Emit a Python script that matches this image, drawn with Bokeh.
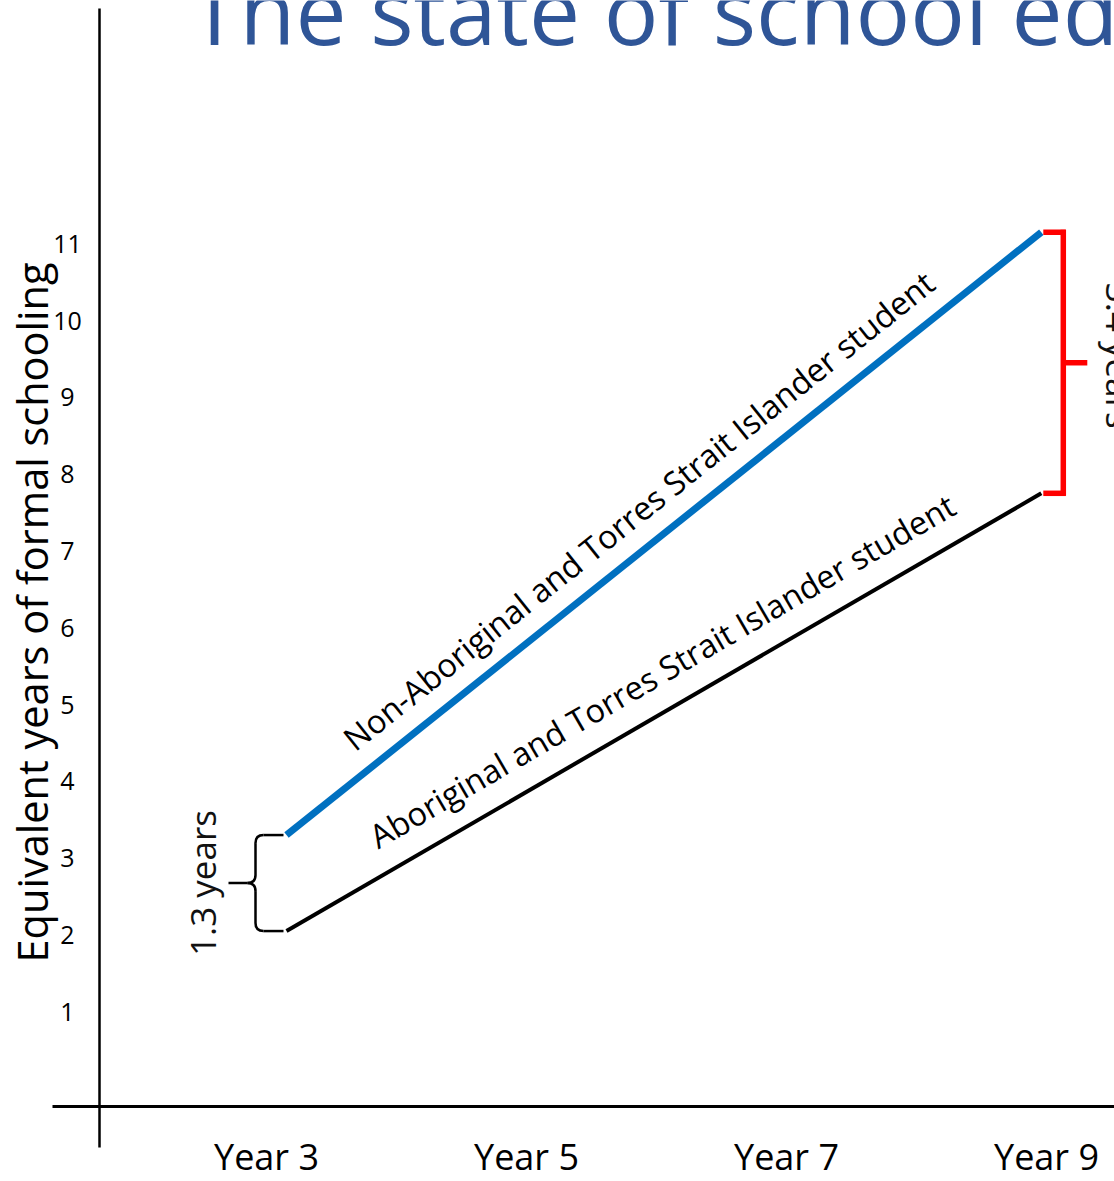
import math
from bokeh.plotting import figure
from bokeh.models import Range1d
from bokeh.core.properties import value
from bokeh.embed import file_html
from bokeh.resources import INLINE

# ---------------- data ----------------
title_text = "The state of school education"
y_axis_title = "Equivalent years of formal schooling"
x_tick_years = [3, 5, 7, 9]
x_tick_labels = ["Year 3", "Year 5", "Year 7", "Year 9"]
y_ticks = [1, 2, 3, 4, 5, 6, 7, 8, 9, 10, 11]
line_years = [3, 9]
non_indigenous = [3.3, 11.15]
indigenous = [2.05, 7.75]
series_names = ["Non-Aboriginal and Torres Strait Islander student",
                "Aboriginal and Torres Strait Islander student"]
gap_labels = ["1.3 years", "3.4 years"]

# ---------------- layout ----------------
FIG_W, FIG_H = 1114, 1181
OFF = 0
X3_PX, X_PER = 286.0, 125.8    # pixel of year 3 on the line scale, px per year
Y0_PX, Y_PER = 1088.0, 76.8    # pixel of value 0, px per unit
LBL3_PX, LBL_PER = 266.0, 130.0  # tick-label scale
K_BASE = 0.4                   # baseline correction (fraction of font size)

x_start = 3 + (OFF - X3_PX) / X_PER
x_end = x_start + FIG_W / X_PER
y_end = (Y0_PX - OFF) / Y_PER
y_start = y_end - FIG_H / Y_PER
l_start = 3 + (OFF - LBL3_PX) / LBL_PER
l_end = l_start + FIG_W / LBL_PER


def xr(px):
    return 3 + (px - X3_PX) / X_PER


def yr(px):
    return (Y0_PX - px) / Y_PER


def dx(px):
    return px / X_PER


def dy(px):
    return px / Y_PER


FONT = value("Open Sans")

p = figure(width=FIG_W, height=FIG_H, x_range=Range1d(x_start, x_end),
           y_range=Range1d(y_start, y_end), output_backend="svg",
           toolbar_location=None, x_axis_type=None, y_axis_type=None,
           min_border=0)
p.extra_x_ranges = {"lbl": Range1d(l_start, l_end)}
p.outline_line_color = None
p.background_fill_color = "white"
p.border_fill_color = "white"


def btext(x, y, text, size, angle=0.0, color="black", align="center",
          x_range_name=None, per_x=X_PER):
    """text placed with its alphabetic baseline through (x, y)."""
    c = K_BASE * size
    xs = [v - c * math.sin(angle) / per_x for v in x]
    ys = [v + c * math.cos(angle) / Y_PER for v in y]
    kw = dict(x=xs, y=ys, text=text, angle=angle, text_font=FONT,
              text_font_size=value(f"{size}px"), text_color=color,
              text_align=align, text_baseline="alphabetic")
    if x_range_name:
        kw["x_range_name"] = x_range_name
    p.text(**kw)


# title
btext([xr(189)], [yr(46)], [title_text], 91, color="#2F5597", align="left")

# axis lines
p.segment(x0=[xr(99)], y0=[yr(8)], x1=[xr(99)], y1=[yr(1147)],
          line_color="black", line_width=2.5)
p.segment(x0=[xr(52)], y0=[yr(1106)], x1=[xr(1120)], y1=[yr(1106)],
          line_color="black", line_width=3)

# y tick labels
p.text(x=[xr(67)] * len(y_ticks), y=y_ticks, text=[str(t) for t in y_ticks],
       text_font=FONT, text_font_size=value("25px"), text_color="black",
       text_align="center", text_baseline="middle")

# y axis title
btext([xr(48)], [yr(612)], [y_axis_title], 41.5, angle=math.pi / 2)

# x tick labels
btext(x_tick_years, [yr(1170)] * len(x_tick_years), x_tick_labels, 36,
      x_range_name="lbl", per_x=LBL_PER)

# series lines
p.line(line_years, non_indigenous, line_color="#0070C0", line_width=7)
p.line(line_years, indigenous, line_color="black", line_width=4)


# labels along lines
def line_label(vals, text, frac, d, size):
    th = math.atan2((vals[1] - vals[0]) * Y_PER,
                    (line_years[1] - line_years[0]) * X_PER)
    x = line_years[0] + frac * (line_years[1] - line_years[0])
    y = vals[0] + frac * (vals[1] - vals[0])
    x += dx(-d * math.sin(th))
    y += dy(d * math.cos(th))
    btext([x], [y], [text], size, angle=th, align="left")


line_label(non_indigenous, series_names[0], 0.109, 21, 32.5)
line_label(indigenous, series_names[1], 0.138, 24, 32.5)

# curly brace at Year 3
x0 = line_years[0]
yT, yB = non_indigenous[0], indigenous[0]
yM = (yT + yB) / 2
r = 8
xe, xv, xt = x0 + dx(-3), x0 + dx(-31), x0 + dx(-58)
seg_x0 = [xe, xv, xv - dx(8), xe, xv]
seg_y0 = [yT, yT - dy(r), yM, yB, yB + dy(r)]
seg_x1 = [xv + dx(r), xv, xt, xv + dx(r), xv]
seg_y1 = [yT, yM + dy(r), yM, yB, yM - dy(r)]
p.segment(x0=seg_x0, y0=seg_y0, x1=seg_x1, y1=seg_y1, line_color="black",
          line_width=2.5)
p.quadratic(x0=[xv + dx(r), xv, xv + dx(r), xv],
            y0=[yT, yM + dy(r), yB, yM - dy(r)],
            x1=[xv, xv - dx(8), xv, xv - dx(8)],
            y1=[yT - dy(r), yM, yB + dy(r), yM],
            cx=[xv, xv, xv, xv],
            cy=[yT, yM, yB, yM],
            line_color="black", line_width=2.5)
btext([x0 + dx(-70)], [yM], [gap_labels[0]], 35, angle=math.pi / 2,
      color="#111111")

# red bracket at Year 9
x9 = line_years[1]
tT, tB = non_indigenous[1], indigenous[1]
tM = (tT + tB) / 2
bx = x9 + dx(22)
p.segment(x0=[x9 + dx(2), x9 + dx(2), bx, bx],
          y0=[tT, tB, tT + dy(2.5), tM],
          x1=[bx + dx(2.5), bx + dx(2.5), bx, bx + dx(24)],
          y1=[tT, tB, tB - dy(2.5), tM],
          line_color="#FF0000", line_width=5.5)
btext([x9 + dx(64)], [tM + dy(7)], [gap_labels[1]], 35, angle=-math.pi / 2,
      color="#111111")

open("out.html", "w").write(file_html(p, INLINE))
